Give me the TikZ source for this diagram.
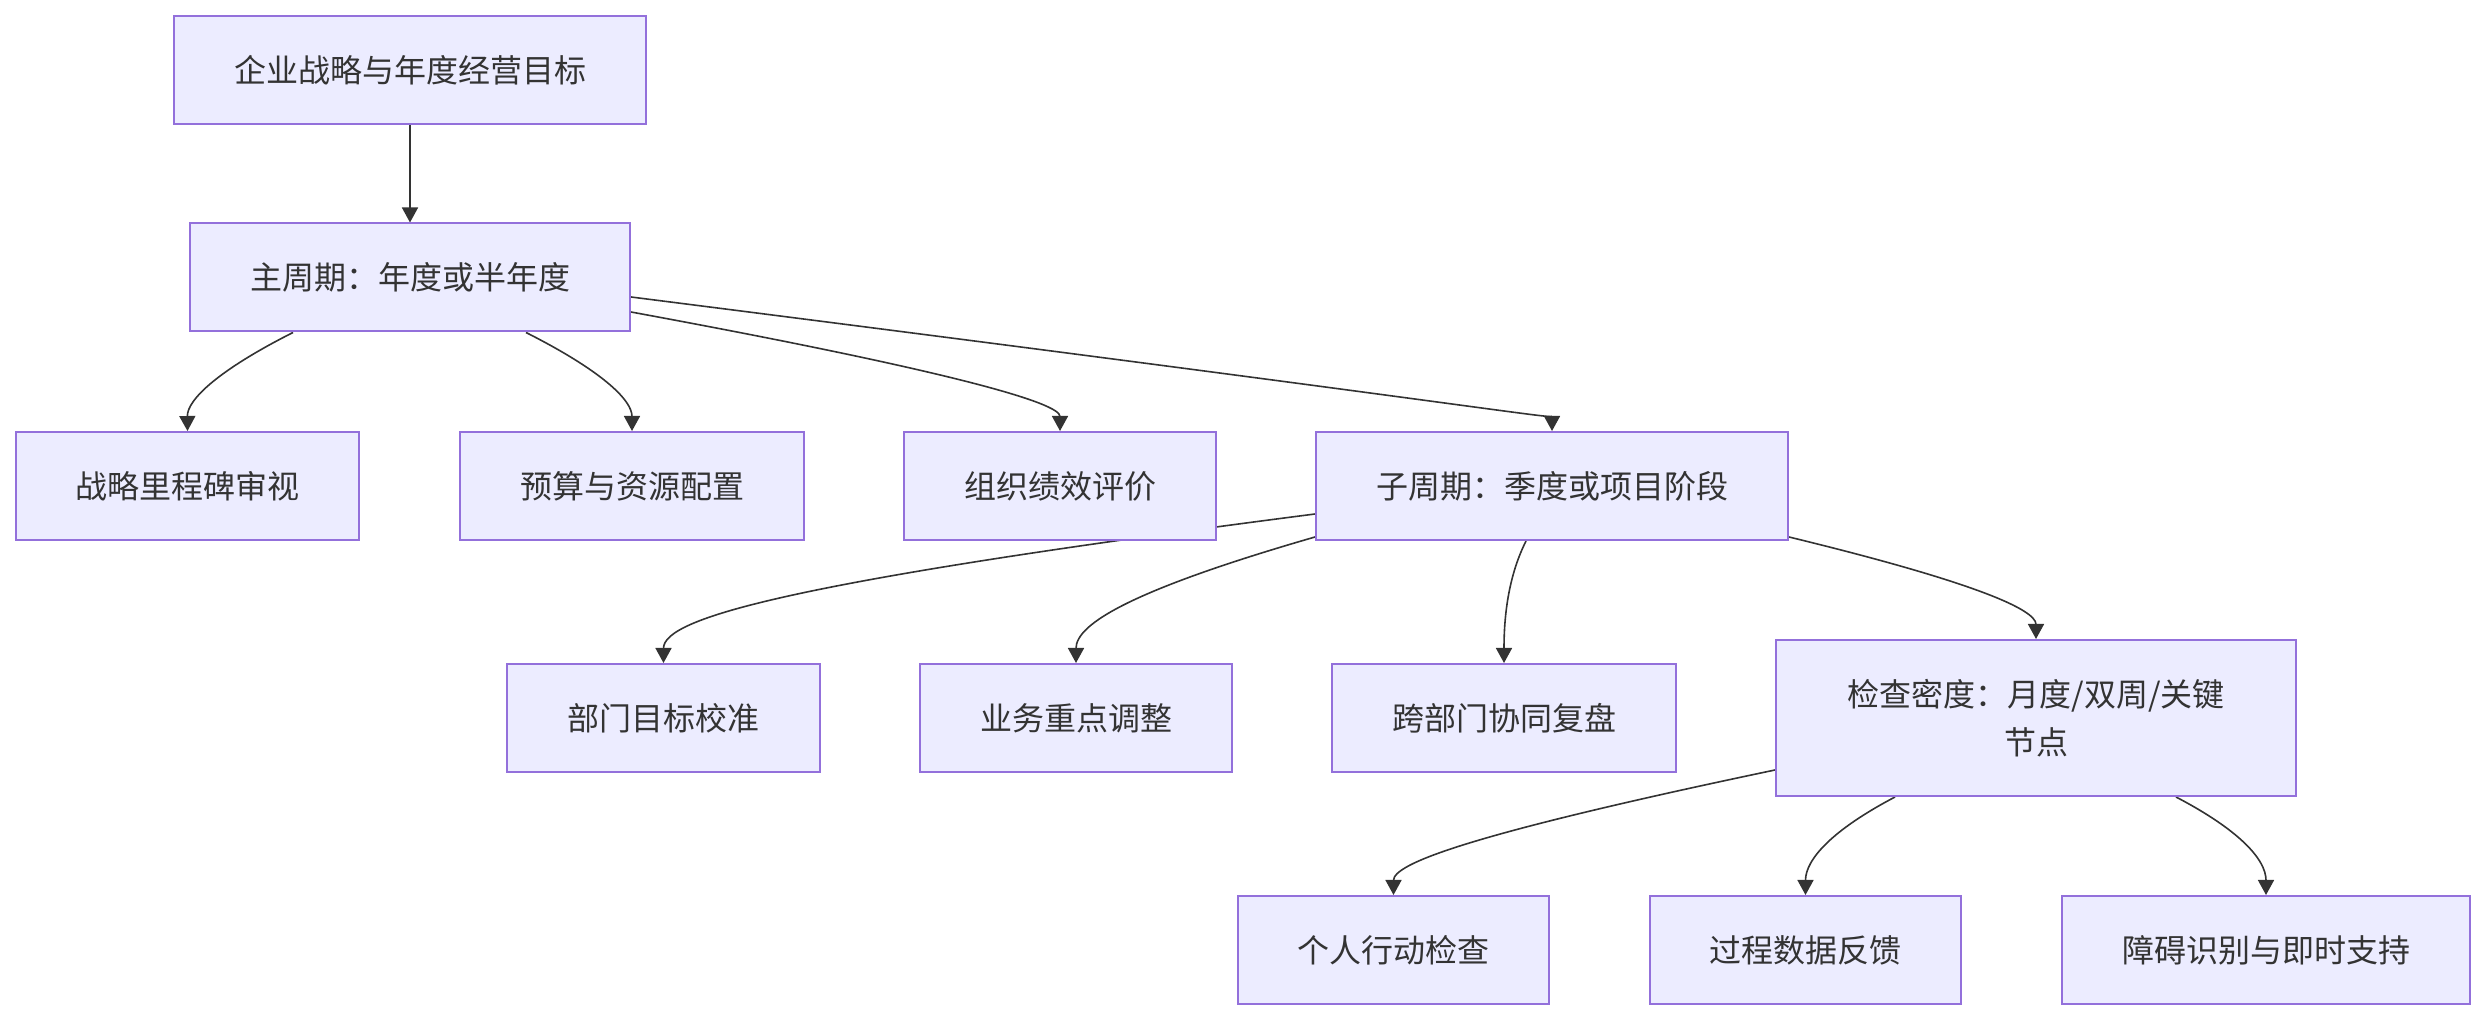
\documentclass[tikz,border=0pt]{standalone}
\usepackage{fontspec}
\setmainfont{Noto Sans CJK SC}
\usetikzlibrary{calc,arrows.meta,backgrounds}
\definecolor{boxfill}{HTML}{ECECFF}
\definecolor{boxline}{HTML}{9370DB}
\definecolor{ink}{HTML}{333333}
\tikzset{
  box/.style={draw=boxline, fill=boxfill, line width=1pt, text=ink, inner sep=0pt,
    minimum height=54pt, align=center, font=\fontsize{16pt}{24pt}\selectfont},
  edge/.style={draw=ink, line width=0.8pt, -{Triangle[length=7.5pt,width=8pt]}}
}
\begin{document}
\begin{tikzpicture}[x=0.5pt,y=-0.5pt]
\useasboundingbox (0,0) rectangle (2486,1020);
% nodes
\node[box, minimum width=236pt] (n1) at (410,70) {企业战略与年度经营目标};
\node[box, minimum width=220pt] (n2) at (410,277.5) {主周期：年度或半年度};
\node[box, minimum width=171.5pt] (a) at (187.5,486) {战略里程碑审视};
\node[box, minimum width=172pt] (b) at (632,486) {预算与资源配置};
\node[box, minimum width=156pt] (c) at (1060,486) {组织绩效评价};
\node[box, minimum width=236pt] (d) at (1552,486) {子周期：季度或项目阶段};
\node[box, minimum width=156.5pt] (e) at (663.5,718) {部门目标校准};
\node[box, minimum width=156pt] (f) at (1076,718) {业务重点调整};
\node[box, minimum width=172pt] (g) at (1504,718) {跨部门协同复盘};
\node[box, minimum width=260pt, minimum height=78pt] (h) at (2036,718) {检查密度：月度/双周/关键\\节点};
\node[box, minimum width=155.5pt] (i) at (1393.5,950) {个人行动检查};
\node[box, minimum width=155.5pt] (j) at (1805.5,950) {过程数据反馈};
\node[box, minimum width=204pt] (k) at (2266,950) {障碍识别与即时支持};
% edge start points
\coordinate (s2a) at ($(n2.south)+(-117,0)$);
\coordinate (s2b) at ($(n2.south)+(116,0)$);
\coordinate (s2c) at ($(n2.east)+(0,34.5)$);
\coordinate (s2d) at ($(n2.east)+(0,19.5)$);
\coordinate (sde) at ($(d.west)+(0,28)$);
\coordinate (sdf) at ($(d.west)+(0,51)$);
\coordinate (sdg) at ($(d.south)+(-26,0)$);
\coordinate (sdh) at ($(d.east)+(0,51)$);
\coordinate (shi) at ($(h.west)+(0,52)$);
\coordinate (shj) at ($(h.south)+(-141,0)$);
\coordinate (shk) at ($(h.south)+(140,0)$);
% bend points
\coordinate (p2a) at (187,386);
\coordinate (p2b) at (632,386);
\coordinate (p2c) at (1060,391);
\coordinate (p2d) at (1552,414);
\coordinate (pde) at (663.5,598);
\coordinate (pdf) at (1076,606);
\coordinate (pdg) at (1504,585);
\coordinate (pdh) at (2036,597);
\coordinate (phi) at (1393.5,850);
\coordinate (phj) at (1805.5,844);
\coordinate (phk) at (2266,844);
\begin{scope}[on background layer]
\draw[edge] (n1.south) -- (n2.north);
\draw[edge] (s2a) .. controls ($(s2a)!0.7!(p2a)$) and ($(a.north)!0.7!(p2a)$) .. (a.north);
\draw[edge] (s2b) .. controls ($(s2b)!0.7!(p2b)$) and ($(b.north)!0.7!(p2b)$) .. (b.north);
\draw[edge] (s2c) .. controls ($(s2c)!0.75!(p2c)$) and ($(c.north)!0.7!(p2c)$) .. (c.north);
\draw[edge] (s2d) .. controls ($(s2d)!0.85!(p2d)$) and ($(d.north)!0.7!(p2d)$) .. (d.north);
\draw[edge] (sde) .. controls ($(sde)!0.8!(pde)$) and ($(e.north)!0.7!(pde)$) .. (e.north);
\draw[edge] (sdf) .. controls ($(sdf)!0.75!(pdf)$) and ($(f.north)!0.7!(pdf)$) .. (f.north);
\draw[edge] (sdg) .. controls ($(sdg)!0.7!(pdg)$) and ($(g.north)!0.7!(pdg)$) .. (g.north);
\draw[edge] (sdh) .. controls ($(sdh)!0.75!(pdh)$) and ($(h.north)!0.7!(pdh)$) .. (h.north);
\draw[edge] (shi) .. controls ($(shi)!0.8!(phi)$) and ($(i.north)!0.7!(phi)$) .. (i.north);
\draw[edge] (shj) .. controls ($(shj)!0.7!(phj)$) and ($(j.north)!0.7!(phj)$) .. (j.north);
\draw[edge] (shk) .. controls ($(shk)!0.7!(phk)$) and ($(k.north)!0.7!(phk)$) .. (k.north);
\end{scope}
\end{tikzpicture}
\end{document}
